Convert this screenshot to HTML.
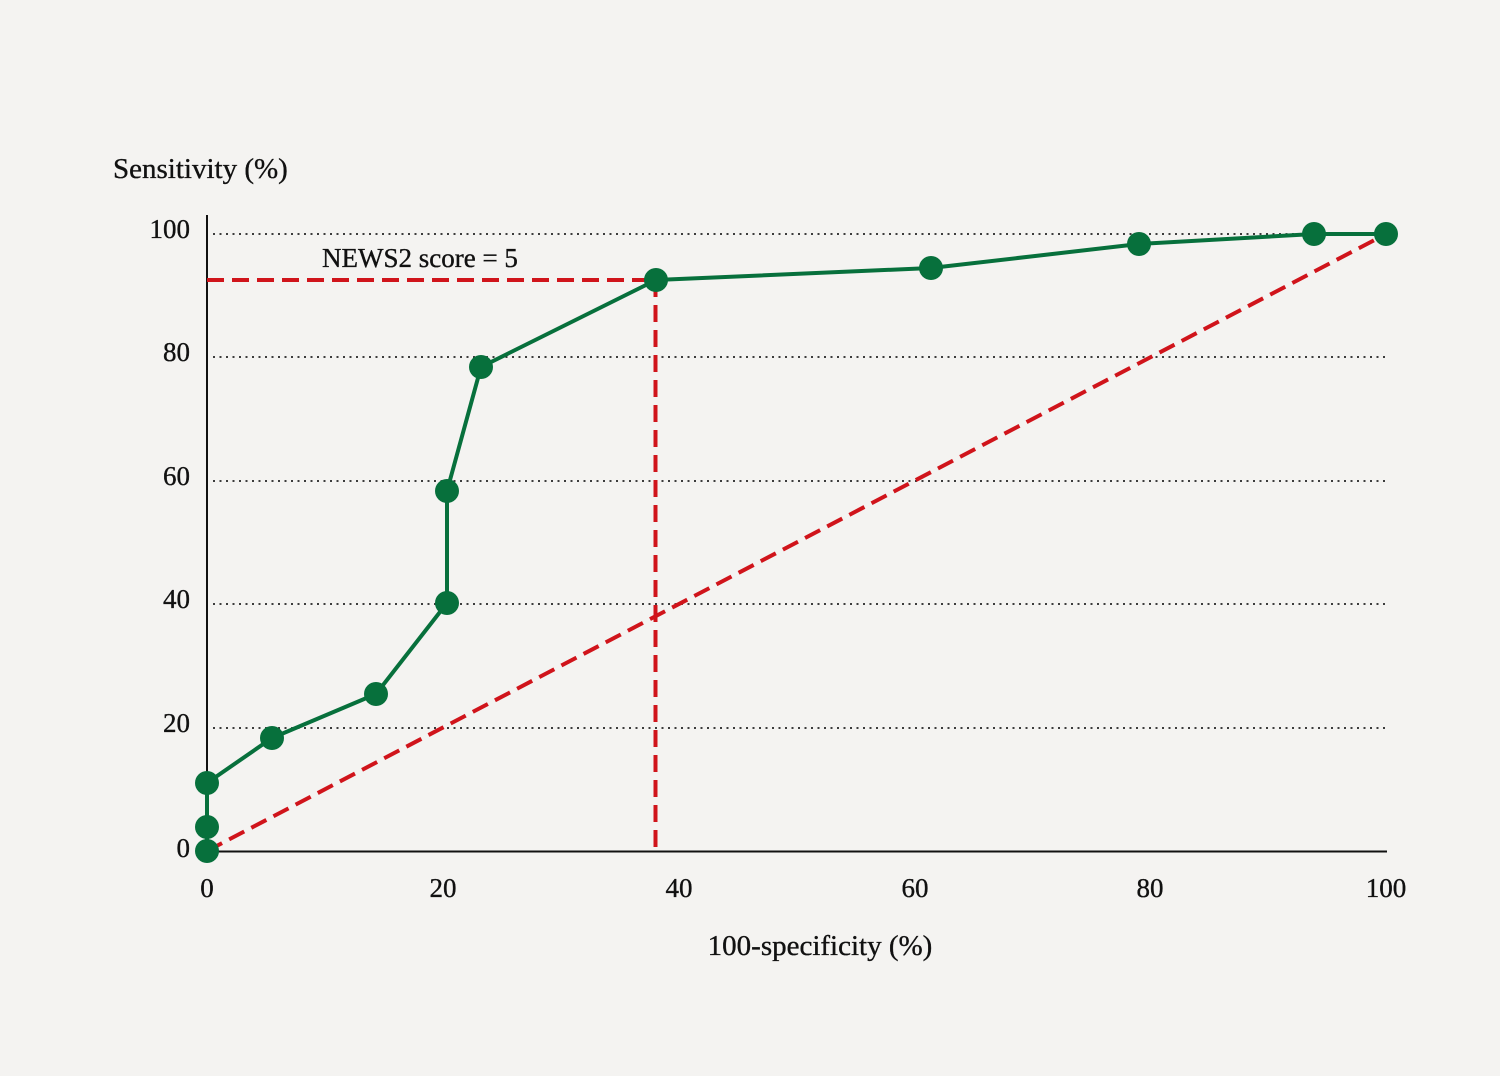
<!DOCTYPE html>
<html><head><meta charset="utf-8">
<style>
html,body{margin:0;padding:0;background:#f4f3f1;}
svg{display:block;}
text{font-family:"Liberation Serif","DejaVu Serif",serif;fill:#111;stroke:#111;stroke-width:0.35;}
</style></head>
<body>
<svg width="1500" height="1076" viewBox="0 0 1500 1076" xmlns="http://www.w3.org/2000/svg">
<rect width="1500" height="1076" fill="#f4f3f1"/>
<!-- grid -->
<g stroke="#222" stroke-width="1.8" stroke-dasharray="2,4.5">
<line x1="213" y1="234" x2="1388" y2="234"/>
<line x1="213" y1="357" x2="1388" y2="357"/>
<line x1="213" y1="481" x2="1388" y2="481"/>
<line x1="213" y1="604" x2="1388" y2="604"/>
<line x1="213" y1="728" x2="1388" y2="728"/>
</g>
<!-- axes -->
<line x1="207" y1="215" x2="207" y2="852" stroke="#111" stroke-width="2"/>
<line x1="206" y1="851.5" x2="1387" y2="851.5" stroke="#111" stroke-width="2"/>
<!-- red dashed -->
<g stroke="#d0141b" stroke-width="4" stroke-dasharray="17,8" fill="none">
<line x1="207" y1="280" x2="655" y2="280"/>
<line x1="655.5" y1="280" x2="655.5" y2="851"/>
<line x1="207" y1="851" x2="1386" y2="234"/>
</g>
<!-- green curve -->
<polyline fill="none" stroke="#07703c" stroke-width="4" stroke-linejoin="round"
points="207,851 207,827 207,783 272,738 376,694 447,603 447,491 481,367 656,280 931,268 1139,244 1314,234 1386,234"/>
<g fill="#07703c">
<circle cx="207" cy="851" r="12"/>
<circle cx="207" cy="827" r="12"/>
<circle cx="207" cy="783" r="12"/>
<circle cx="272" cy="738" r="12"/>
<circle cx="376" cy="694" r="12"/>
<circle cx="447" cy="603" r="12"/>
<circle cx="447" cy="491" r="12"/>
<circle cx="481" cy="367" r="12"/>
<circle cx="656" cy="280" r="12"/>
<circle cx="931" cy="268" r="12"/>
<circle cx="1139" cy="244" r="12"/>
<circle cx="1314" cy="234" r="12"/>
<circle cx="1386" cy="234" r="12"/>
</g>
<!-- y tick labels -->
<g font-size="27" text-anchor="end">
<text x="190" y="238">100</text>
<text x="190" y="361">80</text>
<text x="190" y="485">60</text>
<text x="190" y="608">40</text>
<text x="190" y="732">20</text>
<text x="190" y="857">0</text>
</g>
<!-- x tick labels -->
<g font-size="27" text-anchor="middle">
<text x="207" y="897">0</text>
<text x="443" y="897">20</text>
<text x="679" y="897">40</text>
<text x="915" y="897">60</text>
<text x="1150" y="897">80</text>
<text x="1386" y="897">100</text>
</g>
<text x="113" y="178" font-size="29">Sensitivity (%)</text>
<text x="820" y="955" font-size="29" text-anchor="middle">100-specificity (%)</text>
<text x="322" y="267" font-size="27">NEWS2 score = 5</text>
</svg>
</body></html>
